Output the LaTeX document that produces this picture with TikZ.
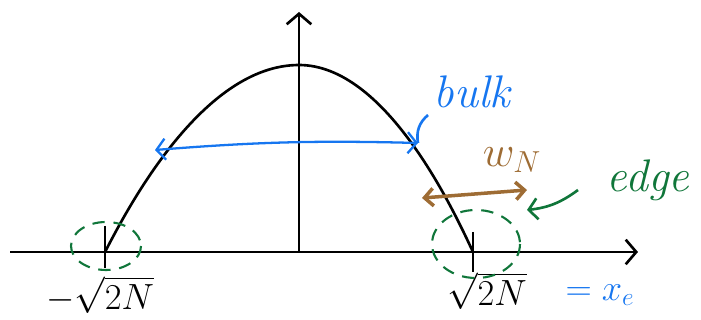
\documentclass[tikz,border=0pt]{standalone}
\usepackage{tikz}
\usetikzlibrary{arrows.meta}
\definecolor{inkblue}{RGB}{22,118,240}
\definecolor{inkbrown}{RGB}{158,108,52}
\definecolor{inkgreen}{RGB}{16,118,58}

\begin{document}
\begin{tikzpicture}[x=0.02cm, y=-0.02cm,
  axis/.style={line width=1.5pt, -{Straight Barb[length=6pt, width=14pt, line width=1.5pt]}},
  curve/.style={line width=1.5pt},
  tickmark/.style={line width=1.3pt},
  bulkarrow/.style={inkblue, line width=1.3pt, {Straight Barb[length=5pt, width=12pt]}-{Straight Barb[length=5pt, width=12pt]}},
  widtharrow/.style={inkbrown, line width=2pt, {Straight Barb[length=5pt, width=10pt]}-{Straight Barb[length=5pt, width=10pt]}},
  edgering/.style={inkgreen, line width=1.2pt, dash pattern=on 7pt off 5pt},
  pointer/.style={line width=1.5pt},
  rootlabel/.style={font=\fontsize{22}{24}\selectfont},
  sketchlabel/.style={font=\fontsize{26}{28}\selectfont\itshape}
]
\useasboundingbox (0,0) rectangle (701,320);

%========== axes ==========
\coordinate (xleft) at (10,252);
\coordinate (xright) at (638,252);
\coordinate (origin) at (299,252);
\coordinate (ytop) at (299,12);
\draw[axis] (xleft) -- (xright);
\draw[axis] (origin) -- (ytop);

%========== curve and roots ==========
\coordinate (lroot) at (105,252);
\coordinate (peak) at (299,65);
\coordinate (rroot) at (473,252);
\draw[curve] (lroot) parabola bend (peak) (rroot);

\draw[tickmark] (105,226) -- (105,268);
\draw[tickmark] (473,232) -- (473,272);

\node[rootlabel] (lroottext) at (100,295) {$-\sqrt{2N}$};
\node[rootlabel] (rroottext) at (487,291) {$\sqrt{2N}$};
\node[rootlabel, inkblue] (xedge) at (600,295) {$= x_e$};

%========== bulk ==========
\coordinate (bulkl) at (155,150);
\coordinate (bulkr) at (418,143);
\draw[bulkarrow] (bulkl) to[bend left=3] (bulkr);
\node[sketchlabel, inkblue] (bulk) at (472,92) {bulk};
\draw[pointer, inkblue] (428,115) to[bend right=30] (bulkr);

%========== edge ==========
\coordinate (wl) at (422,198);
\coordinate (wr) at (527,190);
\draw[widtharrow] (wl) -- (wr);
\node[sketchlabel, inkbrown] (wn) at (512,160) {$w_N$};

\draw[edgering] (106,246) ellipse [x radius=35, y radius=24];
\draw[edgering] (476,244) ellipse [x radius=44, y radius=34];

\node[sketchlabel, inkgreen] (edge) at (648,180) {edge};
\coordinate (edgetip) at (527,210);
\draw[pointer, inkgreen, -{Straight Barb[length=5pt, width=12pt]}] (578,190) to[bend left=15] (edgetip);

\end{tikzpicture}
\end{document}
